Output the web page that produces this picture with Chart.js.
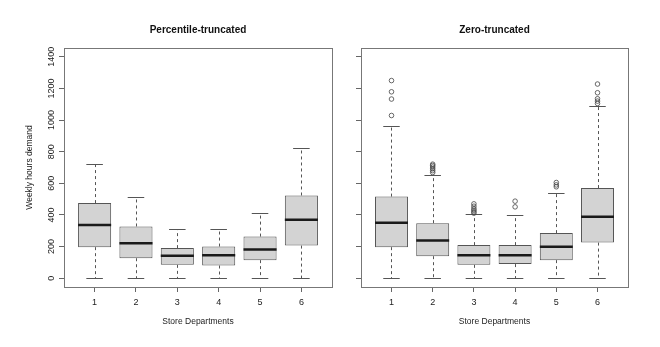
<!DOCTYPE html>
<html>
<head>
<meta charset="utf-8">
<script src="https://cdn.jsdelivr.net/npm/chart.js@4.4.1/dist/chart.umd.min.js"></script>
<style>
  body { margin: 0; background: #fff; }
  #wrap { position: relative; width: 660px; height: 347px; }
  #leftPanel { position: absolute; left: 0; top: 0; }
  #rightPanel { position: absolute; left: 340px; top: 0; }
</style>
</head>
<body>
<div id="wrap">
  <canvas id="leftPanel" width="340" height="347"></canvas>
  <canvas id="rightPanel" width="320" height="347"></canvas>
</div>
<script>
const departments = [1, 2, 3, 4, 5, 6];
const yTicks = [0, 200, 400, 600, 800, 1000, 1200, 1400];

// Percentile-truncated
const pctLow = [0, 0, 0, 0, 0, 0];
const pctQ1 = [196, 126, 84, 80, 114, 206];
const pctMedian = [337, 221, 141, 145, 181, 369];
const pctQ3 = [475, 327, 190, 200, 263, 523];
const pctHigh = [723, 516, 310, 310, 411, 823];

// Zero-truncated
const zeroLow = [0, 0, 0, 0, 0, 0];
const zeroQ1 = [196, 139, 84, 89, 114, 225];
const zeroMedian = [350, 238, 145, 145, 198, 388];
const zeroQ3 = [516, 348, 209, 209, 285, 570];
const zeroHigh = [962, 652, 405, 399, 538, 1086];
const zeroOutliers = [
    [1029, 1133, 1179, 1250],
    [668, 680, 692, 703, 713, 721],
    [411, 420, 430, 440, 455, 470],
    [451, 487],
    [578, 590, 605],
    [1105, 1120, 1135, 1173, 1228]
];

Chart.defaults.font.family = "'Liberation Sans', Arial, sans-serif";
Chart.defaults.color = '#222';

// whiskers, caps, medians and the frame around the plot
const boxParts = {
    id: 'boxParts',
    beforeDatasetsDraw(chart, args, opts) {
        const x = chart.scales.x, y = chart.scales.y, ctx = chart.ctx;
        ctx.save();
        ctx.strokeStyle = '#555';
        ctx.lineWidth = 1;
        departments.forEach(function (d, i) {
            const cx = Math.round(x.getPixelForValue(d)) + 0.5;
            ctx.setLineDash([3, 3]);
            ctx.beginPath();
            ctx.moveTo(cx, y.getPixelForValue(opts.q3[i]));
            ctx.lineTo(cx, y.getPixelForValue(opts.high[i]));
            ctx.moveTo(cx, y.getPixelForValue(opts.q1[i]));
            ctx.lineTo(cx, y.getPixelForValue(opts.low[i]));
            ctx.stroke();
            ctx.setLineDash([]);
            ctx.beginPath();
            [opts.low[i], opts.high[i]].forEach(function (v) {
                const py = Math.round(y.getPixelForValue(v)) + 0.5;
                ctx.moveTo(x.getPixelForValue(d - 0.2), py);
                ctx.lineTo(x.getPixelForValue(d + 0.2), py);
            });
            ctx.stroke();
        });
        ctx.restore();
    },
    afterDatasetsDraw(chart, args, opts) {
        const x = chart.scales.x, y = chart.scales.y, ctx = chart.ctx;
        ctx.save();
        ctx.strokeStyle = '#1a1a1a';
        ctx.lineWidth = 2.5;
        departments.forEach(function (d, i) {
            const py = y.getPixelForValue(opts.median[i]);
            ctx.beginPath();
            ctx.moveTo(x.getPixelForValue(d - 0.4), py);
            ctx.lineTo(x.getPixelForValue(d + 0.4), py);
            ctx.stroke();
        });
        ctx.restore();
    },
    afterDraw(chart) {
        const a = chart.chartArea, ctx = chart.ctx;
        ctx.save();
        ctx.strokeStyle = '#777';
        ctx.lineWidth = 1;
        ctx.strokeRect(Math.round(a.left) + 0.5, Math.round(a.top) + 0.5,
            Math.round(a.right - a.left), Math.round(a.bottom - a.top));
        ctx.restore();
    }
};

function makePanel(canvasId, titleText, low, q1, median, q3, high, outliers, isLeft) {
    const boxes = departments.map((d, i) => ({ x: d, y: [q1[i], q3[i]] }));
    const points = [];
    outliers.forEach(function (list, i) {
        list.forEach(v => points.push({ x: departments[i], y: v }));
    });

    return new Chart(document.getElementById(canvasId), {
        type: 'bar',
        data: {
            datasets: [{
                type: 'bar',
                data: boxes,
                backgroundColor: '#d3d3d3',
                borderColor: '#555',
                borderWidth: 1,
                borderSkipped: false,
                barPercentage: 0.8,
                categoryPercentage: 1.0
            }, {
                type: 'scatter',
                data: points,
                pointStyle: 'circle',
                pointRadius: 2.3,
                borderWidth: 0.8,
                borderColor: '#444',
                backgroundColor: 'rgba(0,0,0,0)'
            }]
        },
        options: {
            responsive: false,
            animation: false,
            layout: { padding: { left: 0, right: isLeft ? 8 : 32, top: 0, bottom: 0 } },
            plugins: {
                legend: { display: false },
                tooltip: { enabled: false },
                title: {
                    display: true,
                    text: titleText,
                    fullSize: false,
                    color: '#111',
                    font: { size: 10, weight: 'bold' },
                    padding: { top: 24, bottom: 12 }
                },
                boxParts: { low: low, q1: q1, median: median, q3: q3, high: high }
            },
            scales: {
                x: {
                    type: 'linear',
                    min: 0.26,
                    max: 6.74,
                    offset: false,
                    afterBuildTicks: s => { s.ticks = departments.map(v => ({ value: v })); },
                    afterFit: s => { s.height = 60; },
                    grid: { offset: false, drawOnChartArea: false, drawTicks: true, tickLength: 5, color: '#666' },
                    border: { display: false },
                    ticks: { font: { size: 9 }, padding: 5, autoSkip: false, maxRotation: 0, callback: v => String(v) },
                    title: { display: true, text: 'Store Departments', font: { size: 8.5 }, padding: { top: 0, bottom: 20 } }
                },
                y: {
                    min: -56,
                    max: 1456,
                    afterBuildTicks: s => { s.ticks = yTicks.map(v => ({ value: v })); },
                    afterFit: s => { s.width = isLeft ? 64 : 21; },
                    grid: { drawOnChartArea: false, drawTicks: true, tickLength: 5, color: '#666' },
                    border: { display: false },
                    ticks: {
                        display: isLeft,
                        minRotation: 90,
                        maxRotation: 90,
                        crossAlign: 'center',
                        padding: -3,
                        autoSkip: false,
                        font: { size: 9 },
                        callback: v => String(v)
                    },
                    title: { display: isLeft, text: 'Weekly hours demand', font: { size: 8.5 }, padding: { top: 25, bottom: 0 } }
                }
            }
        },
        plugins: [boxParts]
    });
}

makePanel('leftPanel', 'Percentile-truncated', pctLow, pctQ1, pctMedian, pctQ3, pctHigh, [], true);
makePanel('rightPanel', 'Zero-truncated', zeroLow, zeroQ1, zeroMedian, zeroQ3, zeroHigh, zeroOutliers, false);
</script>
</body>
</html>
